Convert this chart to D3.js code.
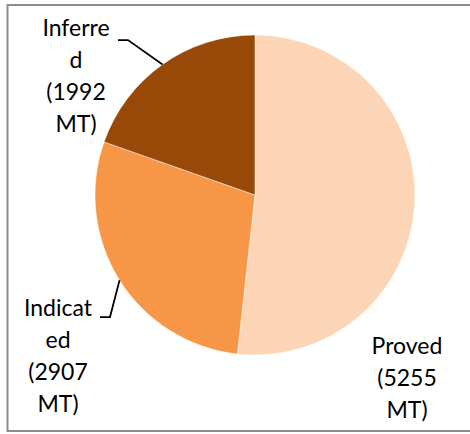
<!DOCTYPE html>
<html>
<head>
<meta charset="utf-8">
<script src="https://cdn.jsdelivr.net/npm/d3@7"></script>
<style>
  body { margin: 0; background: #fff; }
  svg { display: block; }
  .lbl { font-family: Lato, "Open Sans", sans-serif; font-size: 23px; fill: #000; }
</style>
</head>
<body>
<div id="vis"></div>
<script>
// Coal resources (million tonnes)
const categories = ["Proved", "Indicated", "Inferred"];
const values = [5255, 2907, 1992];
const labelLines = [
    ["Proved", "(5255", "MT)"],
    ["Indicat", "ed", "(2907", "MT)"],
    ["Inferre", "d", "(1992", "MT)"]
];
const colors = ["#FBD5B5", "#F79646", "#984807"];

const FRAME_WIDTH = 470;
const FRAME_HEIGHT = 434;
const CX = 255, CY = 195, RADIUS = 160;
const LINE_GAP = 32;

// label layout: text center x, first baseline y, leader elbow (null = no leader)
const LABEL_POS = [
    {x: 407, y: 354, elbow: null},
    {x: 58, y: 316, elbow: {x: 110, y: 317, endX: 100}},
    {x: 76, y: 36, elbow: {x: 128, y: 40, endX: 118}}
];

const data = categories.map((c, i) => ({name: c, value: values[i], lines: labelLines[i]}));

const FRAME = d3.select("#vis")
    .append("svg")
    .attr("width", FRAME_WIDTH)
    .attr("height", FRAME_HEIGHT);

// chart border
FRAME.append("rect")
    .attr("x", 7.5)
    .attr("y", 5)
    .attr("width", FRAME_WIDTH)
    .attr("height", 426)
    .attr("fill", "#fff")
    .attr("stroke", "#8c8c8c")
    .attr("stroke-width", 2);

const pie = d3.pie().sort(null).value(d => d.value);
const arc = d3.arc().innerRadius(0).outerRadius(RADIUS);
const arcs = pie(data);

const G = FRAME.append("g")
    .attr("transform", "translate(" + CX + "," + CY + ")");

G.selectAll("path")
    .data(arcs)
    .enter()
    .append("path")
    .attr("d", arc)
    .attr("fill", (d, i) => colors[i])
    .attr("stroke", "#fff")
    .attr("stroke-width", 0.5);

// leader lines from slice mid-angle on the rim
arcs.forEach((d, i) => {
    const p = LABEL_POS[i];
    if (!p.elbow) return;
    const mid = (d.startAngle + d.endAngle) / 2;
    const ex = CX + RADIUS * Math.sin(mid);
    const ey = CY - RADIUS * Math.cos(mid);
    FRAME.append("polyline")
        .attr("points", [[ex, ey], [p.elbow.x, p.elbow.y], [p.elbow.endX, p.elbow.y]].join(" "))
        .attr("fill", "none")
        .attr("stroke", "#000")
        .attr("stroke-width", 1.75);
});

// labels
data.forEach((d, i) => {
    const p = LABEL_POS[i];
    const t = FRAME.append("text")
        .attr("class", "lbl")
        .attr("text-anchor", "middle");
    d.lines.forEach((line, j) => {
        t.append("tspan")
            .attr("x", p.x)
            .attr("y", p.y + j * LINE_GAP)
            .text(line);
    });
});
</script>
</body>
</html>
